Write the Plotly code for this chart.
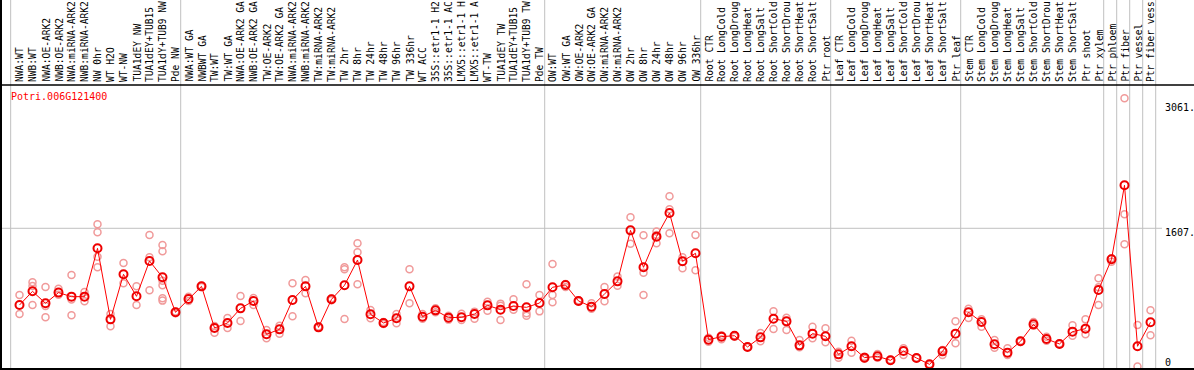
import plotly.graph_objects as go

gene = "Potri.006G121400"

labels = [
    "NWA:WT", "NWB:WT", "NWA:OE-ARK2", "NWB:OE-ARK2", "NWA:miRNA-ARK2", "NWB:miRNA-ARK2",
    "NW 0hr", "WT H2O", "WT-NW", "TUA1dEY NW", "TUA1dEY+TUB15", "TUA1dY+TUB9 NW", "Pde NW",
    "NWA:WT GA", "NWBWT GA", "TW:WT", "TW:WT GA", "NWA:OE-ARK2 GA", "NWB:OE-ARK2 GA",
    "TW:OE-ARK2", "TW:OE-ARK2 GA", "NWA:miRNA-ARK2", "NWB:miRNA-ARK2", "TW:miRNA-ARK2",
    "TW:miRNA-ARK2", "TW 2hr", "TW 8hr", "TW 24hr", "TW 48hr", "TW 96hr", "TW 336hr",
    "WT ACC", "35S::etr1-1 H2", "35S::etr1-1 AC", "LMX5::etr1-1 H", "LMX5::etr1-1 A",
    "WT-TW", "TUA1dEY TW", "TUA1dEY+TUB15", "TUA1dY+TUB9 TW", "Pde TW",
    "OW:WT", "OW:WT GA", "OW:OE-ARK2", "OW:OE-ARK2 GA", "OW:miRNA-ARK2", "OW:miRNA-ARK2",
    "OW 2hr", "OW 8hr", "OW 24hr", "OW 48hr", "OW 96hr", "OW 336hr",
    "Root CTR", "Root LongCold", "Root LongDroug", "Root LongHeat", "Root LongSalt",
    "Root ShortCold", "Root ShortDrou", "Root ShortHeat", "Root ShortSalt", "Ptr root",
    "Leaf CTR", "Leaf LongCold", "Leaf LongDroug", "Leaf LongHeat", "Leaf LongSalt",
    "Leaf ShortCold", "Leaf ShortDrou", "Leaf ShortHeat", "Leaf ShortSalt", "Ptr leaf",
    "Stem CTR", "Stem LongCold", "Stem LongDroug", "Stem LongHeat", "Stem LongSalt",
    "Stem ShortCold", "Stem ShortDrou", "Stem ShortHeat", "Stem ShortSalt", "Ptr shoot",
    "Ptr xylem", "Ptr phloem", "Ptr fiber", "Ptr vessel", "Ptr fiber vess",
]

means = [
    715, 874, 735, 859, 812, 812, 1374, 548, 1072, 816, 1227, 1037, 630,
    785, 932, 448, 506, 676, 762, 374, 432, 773, 932, 455, 781, 944, 1238,
    607, 506, 560, 932, 579, 653, 568, 572, 610, 711, 661, 703, 688, 738,
    921, 948, 762, 696, 843, 990, 1583, 1153, 1510, 1785, 1223, 1316,
    312, 347, 358, 227, 339, 556, 525, 246, 382, 351,
    141, 235, 103, 118, 72, 180, 99, 25, 176, 382,
    630, 517, 258, 161, 293, 490, 320, 262, 405, 440, 890,
    1246, 2107, 235, 514,
]

replicates = [
    [831, 610], [979, 936, 715], [924, 703, 572], [905, 835], [1064, 778, 595],
    [866, 758], [1653, 1560, 1277, 1153], [610, 467], [1203, 967], [932, 715],
    [1529, 1269, 886], [1413, 1339, 998, 944, 793, 766], [640, 620],
    [762, 812], [940, 925], [471, 393], [564, 448], [820, 529], [797, 715],
    [424, 328], [475, 382], [967, 583], [1006, 851], [465, 450], [790, 770],
    [1153, 1130, 552], [1432, 1328, 955], [657, 560], [517, 495], [610, 502],
    [1130, 735], [610, 556], [676, 630], [591, 545], [614, 541], [638, 556],
    [754, 649], [731, 705, 541], [781, 661], [955, 618, 591], [831, 641],
    [1192, 831, 746], [960, 924], [770, 755], [735, 672], [924, 758], [1045, 940],
    [1735, 1428], [1525, 1091, 831], [1570, 1530, 1432], [1979, 1828, 1548],
    [1269, 1142], [1529, 1118],
    [335, 289], [362, 316], [363, 347], [230, 223], [390, 293], [641, 436],
    [568, 424], [308, 223], [463, 328], [444, 281],
    [172, 103], [300, 161], [114, 91], [145, 103], [78, 66], [211, 134],
    [103, 95], [29, 17], [192, 134], [525, 269],
    [672, 564], [548, 463], [308, 219], [211, 134], [300, 286], [517, 475],
    [347, 300], [266, 258], [479, 358], [548, 374], [1025, 921, 715],
    [1258, 1219], [3118, 1769, 1421], [483, 0], [653, 362],
]

axis_labels = ["3061.", "1607.", "0"]
axis_values = [3061, 1607, 0]

# last column index of each group (vertical separators)
group_ends = [12, 40, 52, 62, 72, 83, 84, 85, 86, 87]

x_idx = list(range(len(labels)))
rep_x = [i for i, reps in enumerate(replicates) for _ in reps]
rep_y = [v for reps in replicates for v in reps]

FONT = "DejaVu Sans Mono"
GRAY = "#c0c0c0"

fig = go.Figure()
fig.add_trace(go.Scatter(
    x=rep_x, y=rep_y, mode="markers",
    marker=dict(symbol="circle-open", size=7, color="#f09a9a", line=dict(width=1.5, color="#f09a9a")),
    hoverinfo="skip",
))
fig.add_trace(go.Scatter(
    x=x_idx, y=means, mode="lines+markers",
    line=dict(color="#ff0000", width=1),
    marker=dict(symbol="circle-open", size=8, color="#ee0000", line=dict(width=2, color="#ee0000")),
))

shapes = []
for pos in [-0.68] + [g + 0.4 for g in group_ends]:
    shapes.append(dict(type="line", xref="x", yref="paper", x0=pos, x1=pos, y0=0, y1=1.3,
                       line=dict(color=GRAY, width=1), layer="below"))
shapes.append(dict(type="line", xref="paper", yref="y", x0=0, x1=1.0043, y0=1607, y1=1607,
                   line=dict(color=GRAY, width=1), layer="below"))
shapes.append(dict(type="line", xref="paper", yref="paper", x0=-0.002, x1=1.04, y0=1.0, y1=1.0,
                   line=dict(color="black", width=1.5)))
shapes.append(dict(type="line", xref="paper", yref="paper", x0=-0.002, x1=1.04, y0=0.0, y1=0.0,
                   line=dict(color="black", width=2)))
shapes.append(dict(type="line", xref="paper", yref="paper", x0=0.0, x1=0.0, y0=0, y1=1.3,
                   line=dict(color="black", width=2)))

annotations = [dict(text=gene, xref="paper", yref="paper", x=0.0078, y=0.961,
                    xanchor="left", yanchor="middle", showarrow=False, borderpad=0,
                    font=dict(family=FONT, size=10, color="#ff0000"))]
for i, lab in enumerate(labels):
    annotations.append(dict(text=lab, xref="x", yref="paper", x=i, y=1.0, yshift=2,
                            textangle=-90, xanchor="center", yanchor="bottom",
                            showarrow=False, borderpad=0,
                            font=dict(family=FONT, size=9.6, color="black")))
shifts = [-4, -4, 4.5]
for lab, val, sh in zip(axis_labels, axis_values, shifts):
    annotations.append(dict(text=lab, xref="paper", yref="y", x=1.0060, y=val, yshift=sh,
                            xanchor="left", yanchor="middle", showarrow=False, borderpad=0,
                            font=dict(family=FONT, size=10, color="black")))

fig.update_layout(
    width=1194, height=370,
    margin=dict(l=1, r=37, t=85, b=1, autoexpand=False),
    paper_bgcolor="white", plot_bgcolor="white",
    showlegend=False,
    shapes=shapes, annotations=annotations,
    xaxis=dict(range=[-1.423, 87.5], showticklabels=False, showgrid=False, zeroline=False,
               showline=False, ticks=""),
    yaxis=dict(range=[-29.1, 3273], showticklabels=False, showgrid=False, zeroline=False, showline=False),
)

fig.write_html("out.html", config={"displayModeBar": False},
               post_script="document.body.style.margin='0';document.body.style.overflow='hidden';")
